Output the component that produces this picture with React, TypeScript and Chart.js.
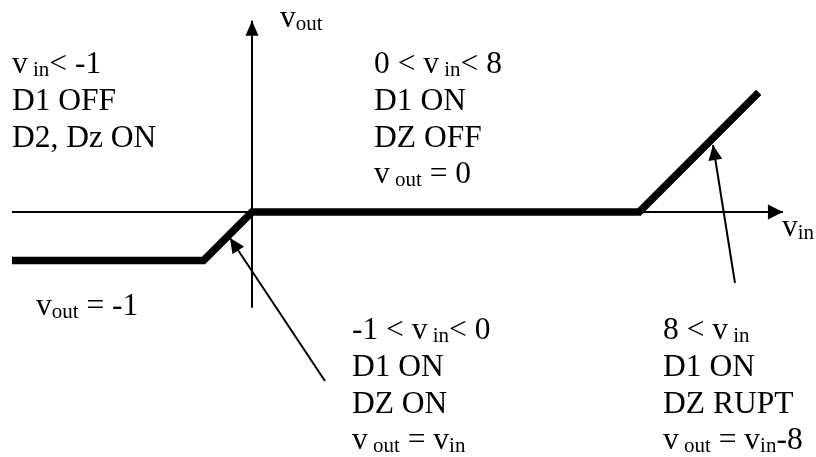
import React, { useEffect, useRef } from "react";
import { Chart, registerables } from "chart.js";

Chart.register(...registerables);

// ---- Data (v_in, v_out in volts) ----
const transferVin = [-4.96, -1, 0, 8, 10.47];
const transferVout = [-1, -1, 0, 0, 2.47];

const xAxisVin = [-4.96, 10.97];
const xAxisVout = [0, 0];
const yAxisVin = [0, 0];
const yAxisVout = [-1.98, 3.95];

const pointer1Vin = [1.508, -0.455];
const pointer1Vout = [-3.492, -0.537];
const pointer2Vin = [9.979, 9.525];
const pointer2Vout = [-1.467, 1.384];

// ---- Annotation text (runs: [text, isSubscript]) ----
type Run = [string, boolean?];
type Line = Run[];

const block1: Line[] = [
  [["v"], [" in", true], ["< -1"]],
  [["D1 OFF"]],
  [["D2, Dz ON"]],
];
const block2: Line[] = [
  [["0 < v"], [" in", true], ["< 8"]],
  [["D1 ON"]],
  [["DZ OFF"]],
  [["v"], [" out", true], [" = 0"]],
];
const block3: Line[] = [
  [["-1 < v"], [" in", true], ["< 0"]],
  [["D1 ON"]],
  [["DZ ON"]],
  [["v"], [" out", true], [" = v"], ["in", true]],
];
const block4: Line[] = [
  [["8 < v"], [" in", true]],
  [["D1 ON"]],
  [["DZ RUPT"]],
  [["v"], [" out", true], [" = v"], ["in", true], ["-8"]],
];
const voutAxisLabel: Line[] = [[["v"], ["out", true]]];
const vinAxisLabel: Line[] = [[["v"], ["in", true]]];
const voutLowLabel: Line[] = [[["v"], ["out", true], [" = -1"]]];

// anchors in data units (v_in, v_out) of first baseline
const annotations: { x: number; y: number; lines: Line[] }[] = [
  { x: -4.96, y: 2.872, lines: block1 },
  { x: 2.521, y: 2.872, lines: block2 },
  { x: 2.066, y: -2.624, lines: block3 },
  { x: 8.492, y: -2.624, lines: block4 },
  { x: 0.579, y: 3.822, lines: voutAxisLabel },
  { x: 10.95, y: -0.496, lines: vinAxisLabel },
  { x: -4.463, y: -2.128, lines: voutLowLabel },
];

const toPoints = (xs: number[], ys: number[]) => xs.map((x, i) => ({ x, y: ys[i] }));

const FONT = '"Liberation Serif", "Times New Roman", serif';
const MAIN_SIZE = 31.5;
const SUB_SIZE = 21;
const SUB_DROP = 3;
const LINE_GAP = 36.8;

const arrowPlugin = {
  id: "arrowHeads",
  afterDatasetsDraw(chart: any) {
    const ctx = chart.ctx;
    chart.data.datasets.forEach((ds: any, i: number) => {
      if (!ds.arrow) return;
      const meta = chart.getDatasetMeta(i);
      const pts = meta.data;
      const a = pts[pts.length - 2];
      const b = pts[pts.length - 1];
      const ang = Math.atan2(b.y - a.y, b.x - a.x);
      const len = ds.arrow.len;
      const hw = ds.arrow.hw;
      ctx.save();
      ctx.fillStyle = "#000";
      ctx.beginPath();
      ctx.moveTo(b.x, b.y);
      ctx.lineTo(b.x - len * Math.cos(ang) + hw * Math.sin(ang), b.y - len * Math.sin(ang) - hw * Math.cos(ang));
      ctx.lineTo(b.x - len * Math.cos(ang) - hw * Math.sin(ang), b.y - len * Math.sin(ang) + hw * Math.cos(ang));
      ctx.closePath();
      ctx.fill();
      ctx.restore();
    });
  },
};

const textPlugin = {
  id: "annotText",
  afterDraw(chart: any) {
    const ctx = chart.ctx;
    const xs = chart.scales.x;
    const ys = chart.scales.y;
    ctx.save();
    ctx.fillStyle = "#000";
    ctx.textBaseline = "alphabetic";
    ctx.textAlign = "left";
    annotations.forEach((ann) => {
      const x0 = xs.getPixelForValue(ann.x);
      const y0 = ys.getPixelForValue(ann.y);
      ann.lines.forEach((line, li) => {
        let cx = x0;
        const by = y0 + li * LINE_GAP;
        line.forEach(([t, sub]) => {
          ctx.font = `${sub ? SUB_SIZE : MAIN_SIZE}px ${FONT}`;
          ctx.fillText(t, cx, sub ? by + SUB_DROP : by);
          cx += ctx.measureText(t).width;
        });
      });
    });
    ctx.restore();
  },
};

export default function App() {
  const ref = useRef<HTMLCanvasElement | null>(null);
  useEffect(() => {
    if (!ref.current) return;
    const base = {
      showLine: true,
      pointRadius: 0,
      borderColor: "#000",
      backgroundColor: "#000",
      tension: 0,
      borderCapStyle: "butt",
      borderJoinStyle: "miter",
      fill: false,
    };
    const chart = new Chart(ref.current, {
      type: "scatter",
      data: {
        datasets: [
          { ...base, data: toPoints(transferVin, transferVout), borderWidth: 7.5, order: 1 },
          { ...base, data: toPoints(xAxisVin, xAxisVout), borderWidth: 2, order: 2, arrow: { len: 15, hw: 7.5 } },
          { ...base, data: toPoints(yAxisVin, yAxisVout), borderWidth: 2, order: 2, arrow: { len: 15, hw: 6.5 } },
          { ...base, data: toPoints(pointer1Vin, pointer1Vout), borderWidth: 2, order: 0, arrow: { len: 15, hw: 7 } },
          { ...base, data: toPoints(pointer2Vin, pointer2Vout), borderWidth: 2, order: 0, arrow: { len: 15, hw: 7 } },
        ] as any,
      },
      options: {
        responsive: false,
        animation: false,
        devicePixelRatio: 1,
        layout: { padding: 0 },
        plugins: { legend: { display: false }, tooltip: { enabled: false } },
        scales: {
          x: { type: "linear", min: -5.2066, max: 11.6529, display: false },
          y: { type: "linear", min: -5.0619, max: 4.3802, display: false },
        },
      } as any,
      plugins: [arrowPlugin, textPlugin],
    });
    return () => chart.destroy();
  }, []);
  return (
    <div style={{ position: "fixed", left: 0, top: 0, width: 816, height: 457, background: "#fff" }}>
      <canvas ref={ref} width={816} height={457} style={{ display: "block" }} />
    </div>
  );
}
